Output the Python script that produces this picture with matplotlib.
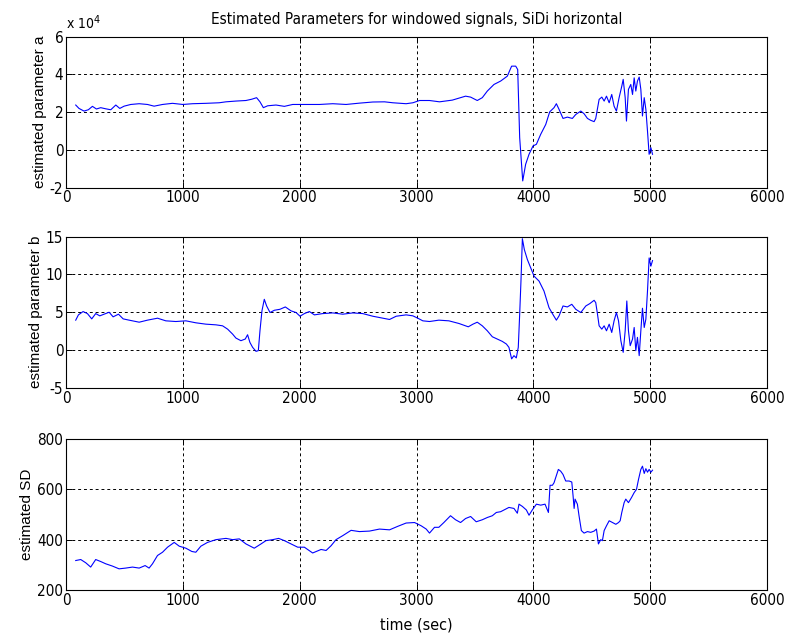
import os
import matplotlib
matplotlib.use("Agg")
import matplotlib.pyplot as plt
from matplotlib import font_manager

# ---- estimated parameter a (units of 1e4) ----
t_a = [83, 111, 154, 191, 226, 260, 297, 340, 383, 426, 460, 497, 554, 626, 697, 754,
       826, 911, 1000, 1083, 1197, 1311, 1369, 1454, 1540, 1591, 1631, 1660, 1689, 1726,
       1797, 1869, 1940, 2054, 2169, 2283, 2397, 2511, 2626, 2726, 2797, 2911, 2969, 3026,
       3111, 3197, 3306, 3420, 3463, 3520, 3563, 3606, 3663, 3720, 3777, 3814, 3849, 3866,
       3883, 3909, 3934, 3963, 3997, 4026, 4063, 4106, 4140, 4177, 4197, 4220, 4254, 4291,
       4334, 4363, 4406, 4434, 4463, 4491, 4520, 4534, 4563, 4586, 4606, 4626, 4649, 4671,
       4691, 4711, 4734, 4757, 4769, 4786, 4797, 4814, 4834, 4849, 4863, 4877, 4891, 4906,
       4920, 4934, 4949, 4963, 4977, 4991, 5006, 5020]
param_a = [2.38, 2.20, 2.06, 2.13, 2.31, 2.17, 2.24, 2.18, 2.13, 2.38, 2.20, 2.32, 2.41, 2.45,
           2.41, 2.32, 2.41, 2.47, 2.41, 2.45, 2.47, 2.50, 2.55, 2.59, 2.62, 2.69, 2.77, 2.55,
           2.24, 2.34, 2.38, 2.31, 2.41, 2.41, 2.41, 2.45, 2.41, 2.48, 2.54, 2.55, 2.50, 2.45,
           2.50, 2.62, 2.62, 2.55, 2.64, 2.85, 2.80, 2.62, 2.77, 3.12, 3.47, 3.65, 3.91, 4.44,
           4.44, 4.26, 0.65, -1.64, -0.76, -0.23, 0.21, 0.30, 0.83, 1.35, 2.02, 2.24, 2.45,
           2.15, 1.67, 1.74, 1.67, 1.88, 2.06, 1.92, 1.67, 1.57, 1.50, 1.67, 2.68, 2.80, 2.59,
           2.85, 2.50, 2.94, 2.32, 2.06, 2.77, 3.38, 3.74, 2.77, 1.53, 3.21, 3.47, 2.94, 3.82,
           3.12, 3.65, 3.86, 3.21, 1.80, 2.77, 2.15, 1.00, -0.23, 0.12, -0.23]

# ---- estimated parameter b ----
t_b = [83, 106, 146, 183, 220, 254, 289, 326, 369, 403, 449, 489, 540, 626, 697, 783, 854,
       940, 1026, 1111, 1197, 1283, 1340, 1383, 1426, 1454, 1497, 1534, 1554, 1574, 1597,
       1626, 1646, 1660, 1677, 1697, 1717, 1746, 1783, 1831, 1877, 1926, 1969, 2003, 2040,
       2083, 2126, 2197, 2283, 2369, 2454, 2540, 2626, 2711, 2769, 2826, 2911, 2969, 3011,
       3054, 3111, 3191, 3277, 3363, 3443, 3483, 3520, 3563, 3606, 3649, 3691, 3734, 3769,
       3791, 3814, 3834, 3854, 3871, 3883, 3894, 3906, 3923, 3949, 3977, 4006, 4049, 4091,
       4134, 4163, 4197, 4220, 4254, 4291, 4329, 4363, 4406, 4449, 4483, 4520, 4534, 4549,
       4563, 4586, 4606, 4626, 4649, 4671, 4691, 4711, 4729, 4749, 4769, 4786, 4800, 4814,
       4829, 4849, 4863, 4877, 4891, 4906, 4920, 4934, 4949, 4963, 4977, 4991, 5006, 5020]
param_b = [3.95, 4.65, 5.09, 4.82, 4.12, 4.82, 4.52, 4.74, 5.00, 4.39, 4.74, 4.12, 3.95,
           3.68, 3.95, 4.21, 3.86, 3.77, 3.86, 3.60, 3.42, 3.33, 3.20, 2.76, 2.10, 1.58,
           1.23, 1.45, 2.02, 1.00, 0.35, -0.18, -0.09, 2.54, 5.18, 6.71, 5.83, 4.96, 5.26,
           5.39, 5.70, 5.18, 4.96, 4.47, 4.82, 5.09, 4.65, 4.82, 4.91, 4.74, 4.91, 4.82,
           4.47, 4.21, 4.04, 4.47, 4.65, 4.52, 4.21, 3.86, 3.77, 3.95, 3.86, 3.51, 3.07,
           3.42, 3.68, 3.20, 2.54, 1.75, 1.45, 1.14, 0.79, 0.35, -1.18, -0.75, -1.05, 0.35,
           4.74, 9.12, 14.74, 13.29, 11.97, 10.88, 9.78, 9.12, 7.81, 5.61, 4.82, 3.95, 4.52,
           5.83, 5.70, 6.05, 5.39, 4.96, 5.83, 6.14, 6.58, 6.27, 4.74, 3.20, 2.76, 3.20,
           2.54, 3.42, 2.32, 3.86, 4.96, 3.86, 1.23, -0.31, 2.54, 6.49, 2.54, 0.57, 1.45,
           2.98, -0.09, 1.67, -0.75, 2.54, 5.53, 2.98, 4.08, 7.81, 12.19, 11.10, 11.84]

# ---- estimated SD ----
t_sd = [83, 126, 169, 211, 254, 297, 340, 397, 454, 511, 569, 626, 677, 711, 740, 783, 826,
        869, 926, 969, 1026, 1077, 1111, 1154, 1211, 1283, 1369, 1426, 1483, 1540, 1611,
        1669, 1711, 1769, 1820, 1869, 1926, 1983, 2040, 2111, 2183, 2226, 2269, 2311, 2369,
        2440, 2511, 2597, 2683, 2769, 2840, 2911, 2983, 3040, 3083, 3111, 3154, 3191, 3234,
        3291, 3334, 3377, 3420, 3463, 3511, 3563, 3606, 3649, 3683, 3720, 3763, 3791, 3834,
        3863, 3877, 3906, 3940, 3963, 3991, 4026, 4063, 4100, 4129, 4143, 4163, 4177, 4197,
        4214, 4234, 4254, 4277, 4306, 4329, 4340, 4349, 4357, 4377, 4391, 4411, 4434, 4463,
        4491, 4520, 4540, 4557, 4577, 4591, 4606, 4626, 4649, 4677, 4706, 4729, 4743, 4757,
        4777, 4791, 4814, 4840, 4863, 4883, 4900, 4920, 4934, 4949, 4963, 4977, 4991, 5006,
        5020]
est_sd = [317, 321, 308, 291, 321, 313, 304, 295, 284, 287, 291, 287, 297, 287, 304, 337,
          350, 370, 389, 374, 366, 353, 350, 374, 389, 400, 405, 400, 403, 383, 366, 383,
          396, 400, 405, 396, 383, 370, 370, 347, 361, 357, 376, 400, 416, 437, 432, 434,
          442, 439, 453, 466, 468, 455, 442, 426, 449, 449, 468, 495, 479, 468, 484, 492,
          471, 479, 488, 495, 508, 511, 521, 528, 524, 505, 541, 532, 518, 497, 518, 541,
          537, 541, 508, 616, 616, 626, 655, 679, 672, 659, 633, 633, 629, 574, 524, 561,
          541, 495, 436, 426, 432, 429, 434, 442, 383, 400, 396, 436, 455, 475, 468, 461,
          468, 475, 508, 547, 561, 547, 567, 587, 600, 639, 679, 692, 663, 682, 668, 679,
          668, 676]

x_ticks = [0, 1000, 2000, 3000, 4000, 5000, 6000]
a_ticks = [-2, 0, 2, 4, 6]
b_ticks = [-5, 0, 5, 10, 15]
sd_ticks = [200, 400, 600, 800]

# regular-weight condensed sans face for numbers and title, if installed
wanted = ("LiberationSansNarrow-Regular.ttf", "DejaVuSansCondensed.ttf")
narrow_file = None
for name in wanted:
    for f in font_manager.fontManager.ttflist:
        if os.path.basename(f.fname) == name:
            narrow_file = f.fname
            break
    if narrow_file:
        break


def narrow_fp(size):
    if narrow_file:
        return font_manager.FontProperties(fname=narrow_file, size=size)
    return font_manager.FontProperties(family=["Liberation Sans", "DejaVu Sans"], size=size)


label_fp = font_manager.FontProperties(family=["Liberation Sans", "DejaVu Sans"], size=11)

fig = plt.figure(figsize=(7.87, 6.35), dpi=100)
fig.patch.set_facecolor("white")

left, width, height = 0.0839, 0.8907, 0.2378
bottoms = [0.7044, 0.3894, 0.0709]

panels = [
    (t_a, param_a, (-2, 6), a_ticks, "estimated parameter a"),
    (t_b, param_b, (-5, 15), b_ticks, "estimated parameter b"),
    (t_sd, est_sd, (200, 800), sd_ticks, "estimated SD"),
]

axes = []
for (tx, ty, ylim, yticks, ylab), bot in zip(panels, bottoms):
    ax = fig.add_axes([left, bot, width, height])
    ax.plot(tx, ty, color=(0, 0, 1), lw=0.8)
    ax.set_xlim(0, 6000)
    ax.set_ylim(*ylim)
    ax.set_xticks(x_ticks)
    ax.set_yticks(yticks)
    ax.set_xticklabels([str(v) for v in x_ticks])
    ax.set_yticklabels([str(v) for v in yticks])
    for lab in ax.get_xticklabels() + ax.get_yticklabels():
        lab.set_fontproperties(narrow_fp(11))
    ax.grid(True, color="black", linestyle=(0, (3, 3)), linewidth=0.7)
    ax.tick_params(direction="in", length=4, width=0.7, top=True, right=True,
                   pad=2, colors="black")
    for s in ax.spines.values():
        s.set_linewidth(0.8)
        s.set_color("black")
    ax.set_ylabel(ylab, fontproperties=label_fp, labelpad=2)
    axes.append(ax)

axes[0].text(0.0, 1.03, r"x 10$^{4}$", transform=axes[0].transAxes,
             ha="left", va="bottom", fontproperties=narrow_fp(10))
axes[0].set_title("Estimated Parameters for windowed signals, SiDi horizontal",
                  fontproperties=narrow_fp(11), pad=9)
axes[2].set_xlabel("time (sec)", fontproperties=narrow_fp(11.5), labelpad=7)

fig.savefig("out.png", dpi=100, facecolor="white")
